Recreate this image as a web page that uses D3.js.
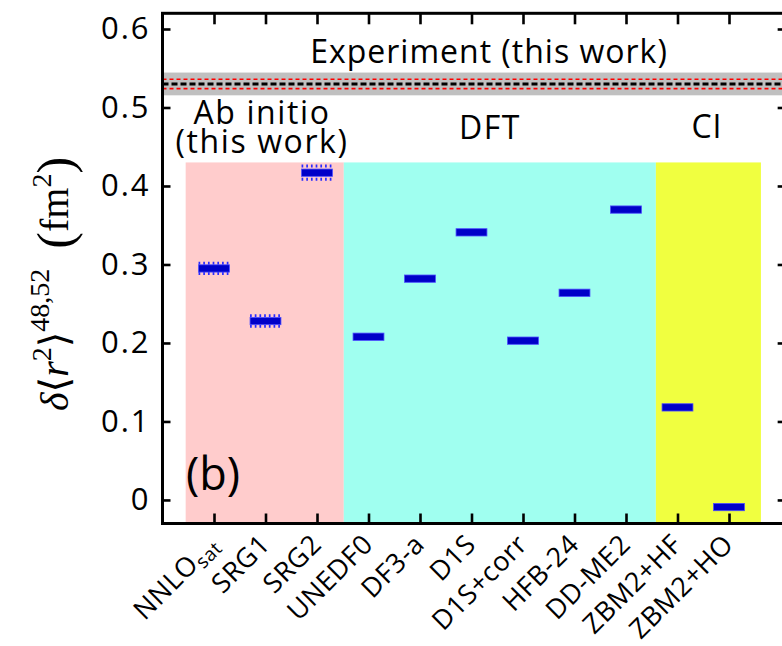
<!DOCTYPE html>
<html>
<head>
<meta charset="utf-8">
<script src="https://cdn.jsdelivr.net/npm/d3@7"></script>
<style>
  body { margin: 0; background: #fff; }
  svg { display: block; }
</style>
</head>
<body>
<div id="chart"></div>
<script>
// model calculations, one per x position
const models = ['NNLO', 'SRG1', 'SRG2', 'UNEDF0', 'DF3-a', 'D1S', 'D1S+corr', 'HFB-24', 'DD-ME2', 'ZBM2+HF', 'ZBM2+HO'];
const modelSubs = ['sat', '', '', '', '', '', '', '', '', '', ''];
const values = [0.295, 0.228, 0.417, 0.208, 0.282, 0.341, 0.203, 0.264, 0.370, 0.118, -0.009];
const errors = [0.0066, 0.0066, 0.0085, 0, 0, 0, 0, 0, 0, 0, 0];

// theory groups (shaded boxes), in x index units
const groupNames = ['Ab initio', 'DFT', 'CI'];
const groupStart = [0.45, 3.52, 9.58];
const groupEnd = [3.52, 9.58, 11.62];
const groupTop = 0.43;
const groupColors = ['#ffcccc', '#a0fff0', '#f0ff40'];

// experiment
const expValue = 0.530;
const expStat = 0.006;
const expSys = 0.0145;

const yTicks = [0, 0.1, 0.2, 0.3, 0.4, 0.5, 0.6];

const width = 782;
const height = 646;

const svg = d3.select('#chart')
  .append('svg')
  .attr('width', width)
  .attr('height', height);

const x = d3.scaleLinear()
  .domain([0, 12.1])
  .range([162.5, 162.5 + 12.1 * 51.5]);

const y = d3.scaleLinear()
  .domain([-0.03, 0.62])
  .range([523.5, 13.3]);

const idx = models.map((m, i) => i + 1);

// shaded group boxes
svg.selectAll('.group')
  .data(groupNames)
  .enter().append('rect')
  .attr('class', 'group')
  .attr('x', (d, i) => x(groupStart[i]))
  .attr('y', y(groupTop))
  .attr('width', (d, i) => x(groupEnd[i]) - x(groupStart[i]))
  .attr('height', y(-0.03) - y(groupTop))
  .attr('fill', (d, i) => groupColors[i]);

// experimental band
svg.append('rect')
  .attr('x', x(0))
  .attr('y', y(expValue + expSys))
  .attr('width', x(12.1) - x(0))
  .attr('height', y(expValue - expSys) - y(expValue + expSys))
  .attr('fill', '#c0c0c0');

[expValue + expStat, expValue - expStat].forEach(function (v) {
  svg.append('line')
    .attr('x1', x(0)).attr('x2', x(12.1))
    .attr('y1', y(v)).attr('y2', y(v))
    .attr('stroke', '#ff0000')
    .attr('stroke-width', 1.7)
    .attr('stroke-dasharray', '4,3');
});

svg.append('line')
  .attr('x1', x(0)).attr('x2', x(12.1))
  .attr('y1', y(expValue)).attr('y2', y(expValue))
  .attr('stroke', '#000')
  .attr('stroke-width', 3)
  .attr('stroke-dasharray', '6,3');

// error bars for ab initio (dotted)
const errIdx = idx.filter((d, i) => errors[i] > 0);
errIdx.forEach(function (d) {
  const i = d - 1;
  [values[i] + errors[i], values[i] - errors[i]].forEach(function (v) {
    svg.append('line')
      .attr('x1', x(d - 0.3)).attr('x2', x(d + 0.3))
      .attr('y1', y(v)).attr('y2', y(v))
      .attr('stroke', '#2a2aff')
      .attr('stroke-width', 3)
      .attr('stroke-dasharray', '1.7,3');
  });
});

// value marks
svg.selectAll('.mark')
  .data(idx)
  .enter().append('rect')
  .attr('class', 'mark')
  .attr('x', d => x(d - 0.3))
  .attr('y', d => y(values[d - 1]) - 3.6)
  .attr('width', d => x(d + 0.3) - x(d - 0.3))
  .attr('height', 7.3)
  .attr('fill', '#0000c8')
  .attr('stroke', '#4d4dff')
  .attr('stroke-width', 0.8);

// annotation texts
const font = "'Open Sans', sans-serif";

function label(tx, ty, size, spacing, str) {
  return svg.append('text')
    .attr('x', tx).attr('y', ty)
    .attr('text-anchor', 'middle')
    .style('font-family', font)
    .style('font-size', size + 'px')
    .style('letter-spacing', spacing + 'px')
    .text(str);
}

label(489, 63, 32, 1, 'Experiment (this work)');
label(490, 139, 32, 1.5, 'DFT');
label(707, 138, 32, 1, 'CI');

const abi = svg.append('text')
  .attr('text-anchor', 'middle')
  .style('font-family', font)
  .style('font-size', '32px')
  .style('letter-spacing', '1.6px');
abi.append('tspan').attr('x', 262).attr('y', 124).text('Ab initio');
abi.append('tspan').attr('x', 262).attr('dy', 29).text('(this work)');

svg.append('text')
  .attr('x', 186).attr('y', 490)
  .style('font-family', font).style('font-size', '45px')
  .text('(b)');

// axes
const yAxis = d3.axisLeft(y)
  .tickValues(yTicks)
  .tickSize(-8)
  .tickPadding(12)
  .tickFormat(d => d === 0 ? '0' : d3.format('.1f')(d));

const gy = svg.append('g')
  .attr('transform', `translate(${x(0)},0)`)
  .call(yAxis);

svg.append('g')
  .attr('transform', `translate(${x(12.1)},0)`)
  .call(d3.axisRight(y).tickValues(yTicks).tickSize(-8).tickFormat(''));

svg.append('g')
  .attr('transform', `translate(0,${y(0.62)})`)
  .call(d3.axisTop(x).tickValues(idx).tickSize(-11).tickFormat(''));

svg.append('g')
  .attr('transform', `translate(0,${y(-0.03)})`)
  .call(d3.axisBottom(x).tickValues(idx).tickSize(-10).tickFormat(''));

svg.selectAll('.domain').remove();
svg.selectAll('.tick line')
  .attr('stroke', '#000')
  .attr('stroke-width', 2.6);

gy.selectAll('text')
  .style('font-family', font)
  .style('font-size', '31px')
  .style('letter-spacing', '2px')
  .attr('fill', '#000');

// frame
svg.append('rect')
  .attr('x', x(0))
  .attr('y', y(0.62))
  .attr('width', x(12.1) - x(0))
  .attr('height', y(-0.03) - y(0.62))
  .attr('fill', 'none')
  .attr('stroke', '#000')
  .attr('stroke-width', 3);

// rotated category labels
const xl = svg.selectAll('.xlabel')
  .data(idx)
  .enter().append('text')
  .attr('class', 'xlabel')
  .attr('transform', d => `translate(${x(d) + 6},546) rotate(-45)`)
  .attr('text-anchor', 'end')
  .style('font-family', font)
  .style('font-size', '27px')
  .style('letter-spacing', '0.6px');

xl.append('tspan')
  .text(d => models[d - 1]);
xl.filter(d => modelSubs[d - 1] !== '')
  .append('tspan')
  .attr('dy', 5)
  .style('font-size', '19px')
  .text(d => modelSubs[d - 1]);

// y axis label (math)
const yl = svg.append('text')
  .attr('transform', 'translate(68,284) rotate(-90)')
  .attr('text-anchor', 'middle')
  .style('font-family', "'Liberation Serif', 'DejaVu Serif', serif")
  .style('font-size', '40px');

yl.append('tspan').style('font-style', 'italic').text('δ');
yl.append('tspan').text('⟨');
yl.append('tspan').style('font-style', 'italic').text('r');
yl.append('tspan').attr('dy', -17).style('font-size', '28px').text('2');
yl.append('tspan').attr('dy', 17).text('⟩');
yl.append('tspan').attr('dy', -19).style('font-size', '28px').text('48,52');
yl.append('tspan').attr('dy', 19).text('\u2002');
yl.append('tspan').attr('dy', 4).style('font-size', '50px').text('(');
yl.append('tspan').attr('dy', -4).text('fm');
yl.append('tspan').attr('dy', -17).style('font-size', '28px').text('2');
yl.append('tspan').attr('dy', 21).style('font-size', '50px').text(')');
</script>
</body>
</html>
